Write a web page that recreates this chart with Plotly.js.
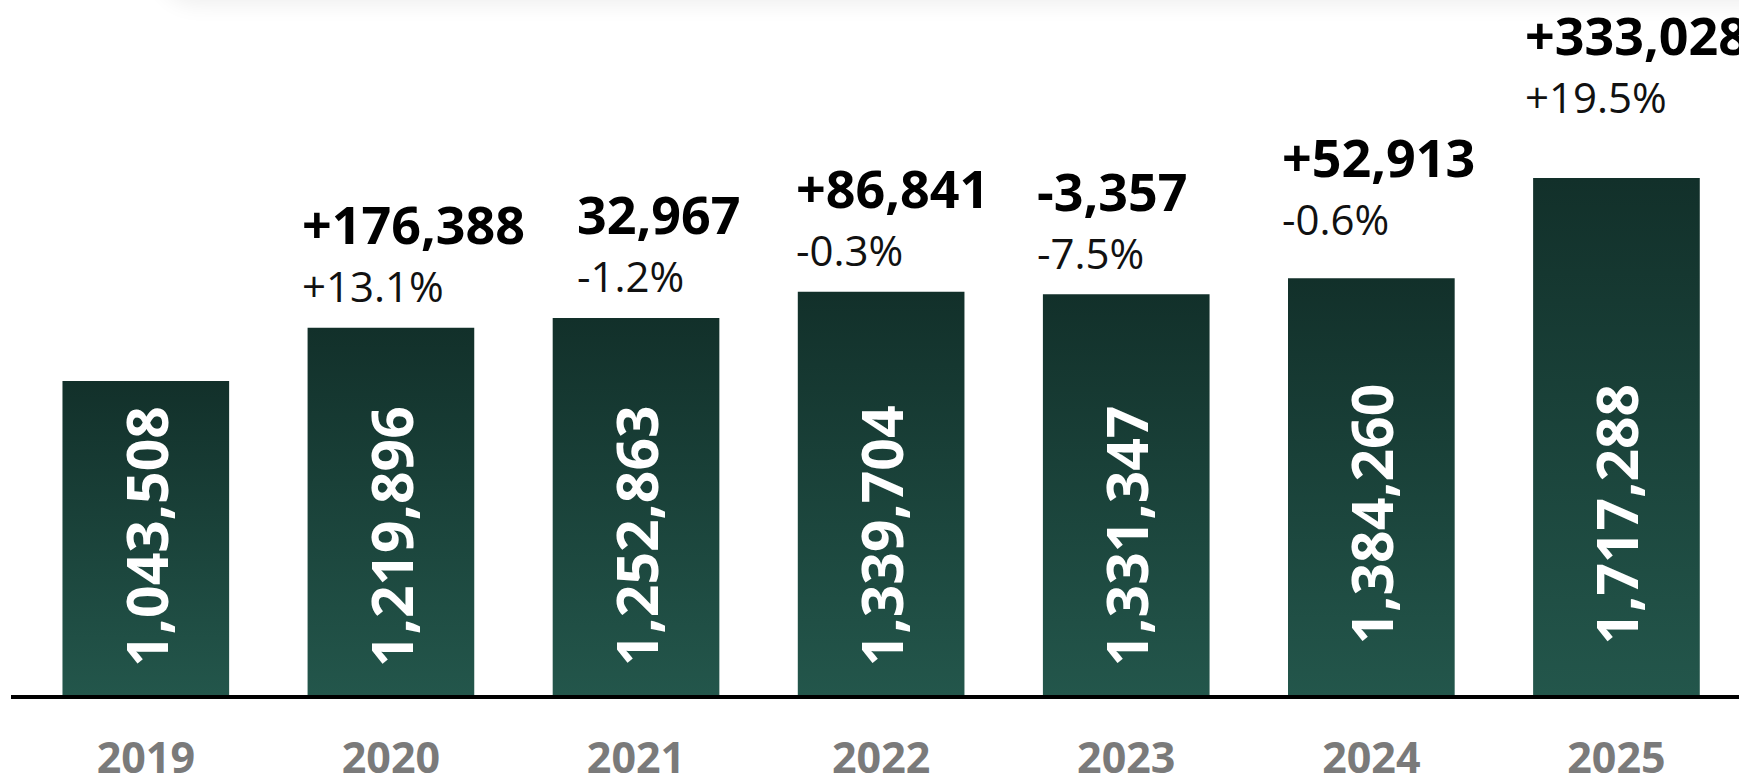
<!DOCTYPE html>
<html>
<head>
<meta charset="utf-8">
<script src="https://cdn.plot.ly/plotly-3.0.1.min.js"></script>
<style>
  html, body { margin: 0; padding: 0; background: #ffffff; overflow: hidden; }
  #wrap { position: relative; width: 1739px; height: 776px; overflow: hidden; background: #ffffff; }
  #card { position: absolute; left: 160px; right: -80px; top: -70px; height: 70px; border-radius: 40px;
          background: #ffffff; box-shadow: 0 4px 22px rgba(0,0,0,0.07); z-index: 2; }
  #chart { position: absolute; left: 0; top: 0; width: 1739px; height: 776px; }
</style>
</head>
<body>
<div id="wrap">
  <div id="chart"></div>
  <div id="card"></div>
</div>
<script>
// ---- data ----
const years = ['2019', '2020', '2021', '2022', '2023', '2024', '2025'];
const totals = [1043508, 1219896, 1252863, 1339704, 1331347, 1384260, 1717288];
const changeLabels = ['', '+176,388', '32,967', '+86,841', '-3,357', '+52,913', '+333,028'];
const pctLabels = ['', '+13.1%', '-1.2%', '-0.3%', '-7.5%', '-0.6%', '+19.5%'];

// ---- label placement tweaks (px, layout only) ----
const extraLift = [0, 0, 0, 0, 0, 18, 40];
const extraNudgeX = [0, 0, 30, 4, 0, 0, -2];
const innerLift = [31, 31, 31, 31, 31, 53, 53];

const fmt = v => v.toLocaleString('en-US');

const trace = {
  type: 'bar',
  x: years,
  y: totals,
  marker: { color: '#1b443b', line: { width: 0 } },
  hoverinfo: 'skip',
  width: 0.68
};

const INNER_HALF_LEN = 128;
const annotations = [];
years.forEach((yr, i) => {
  // inner vertical value label (x given as category index)
  annotations.push({
    x: i, y: 0, xref: 'x', yref: 'y',
    text: '<b>' + fmt(totals[i]) + '</b>',
    textangle: -90,
    showarrow: false,
    xanchor: 'center', yanchor: 'middle',
    yshift: innerLift[i] + INNER_HALF_LEN,
    font: { family: 'Open Sans, sans-serif', size: 57, color: '#ffffff' }
  });
  if (changeLabels[i]) {
    annotations.push({
      x: i - 0.34, y: totals[i], xref: 'x', yref: 'y',
      text: '<b>' + changeLabels[i] + '</b>',
      showarrow: false,
      xanchor: 'left', yanchor: 'middle',
      xshift: -8 + extraNudgeX[i],
      yshift: 104 + extraLift[i],
      font: { family: 'Open Sans, sans-serif', size: 52, color: '#000000' }
    });
    annotations.push({
      x: i - 0.34, y: totals[i], xref: 'x', yref: 'y',
      text: pctLabels[i],
      showarrow: false,
      xanchor: 'left', yanchor: 'middle',
      xshift: -8 + extraNudgeX[i],
      yshift: 42 + extraLift[i],
      font: { family: 'Open Sans, sans-serif', size: 42, color: '#111111' }
    });
  }
});

const layout = {
  width: 1739,
  height: 776,
  margin: { l: 11, r: 0, t: 0, b: 81, pad: 0 },
  paper_bgcolor: '#ffffff',
  plot_bgcolor: '#ffffff',
  showlegend: false,
  xaxis: {
    type: 'category',
    range: [-0.55, 6.5],
    showline: true,
    linecolor: '#000000',
    linewidth: 4,
    showgrid: false,
    zeroline: false,
    ticks: '',
    ticklabelstandoff: 22,
    tickfont: { family: 'Open Sans, sans-serif', size: 43, color: '#7a7a7a', weight: 700 },
    fixedrange: true
  },
  yaxis: {
    range: [0, 2309000],
    visible: false,
    showgrid: false,
    zeroline: false,
    fixedrange: true
  },
  annotations: annotations
};

Plotly.newPlot('chart', [trace], layout, { displayModeBar: false, staticPlot: true }).then(gd => {
  const svg = gd.querySelector('svg.main-svg');
  const ns = 'http://www.w3.org/2000/svg';
  let defs = svg.querySelector('defs');
  if (!defs) { defs = document.createElementNS(ns, 'defs'); svg.insertBefore(defs, svg.firstChild); }
  const grad = document.createElementNS(ns, 'linearGradient');
  grad.setAttribute('id', 'barGrad');
  grad.setAttribute('x1', '0'); grad.setAttribute('y1', '0');
  grad.setAttribute('x2', '0'); grad.setAttribute('y2', '1');
  [['0', '#12302a'], ['1', '#23564b']].forEach(([o, c]) => {
    const s = document.createElementNS(ns, 'stop');
    s.setAttribute('offset', o); s.setAttribute('stop-color', c);
    grad.appendChild(s);
  });
  defs.appendChild(grad);
  gd.querySelectorAll('.trace.bars .point path').forEach(p => {
    p.style.fill = 'url(#barGrad)';
  });
});
</script>
</body>
</html>
